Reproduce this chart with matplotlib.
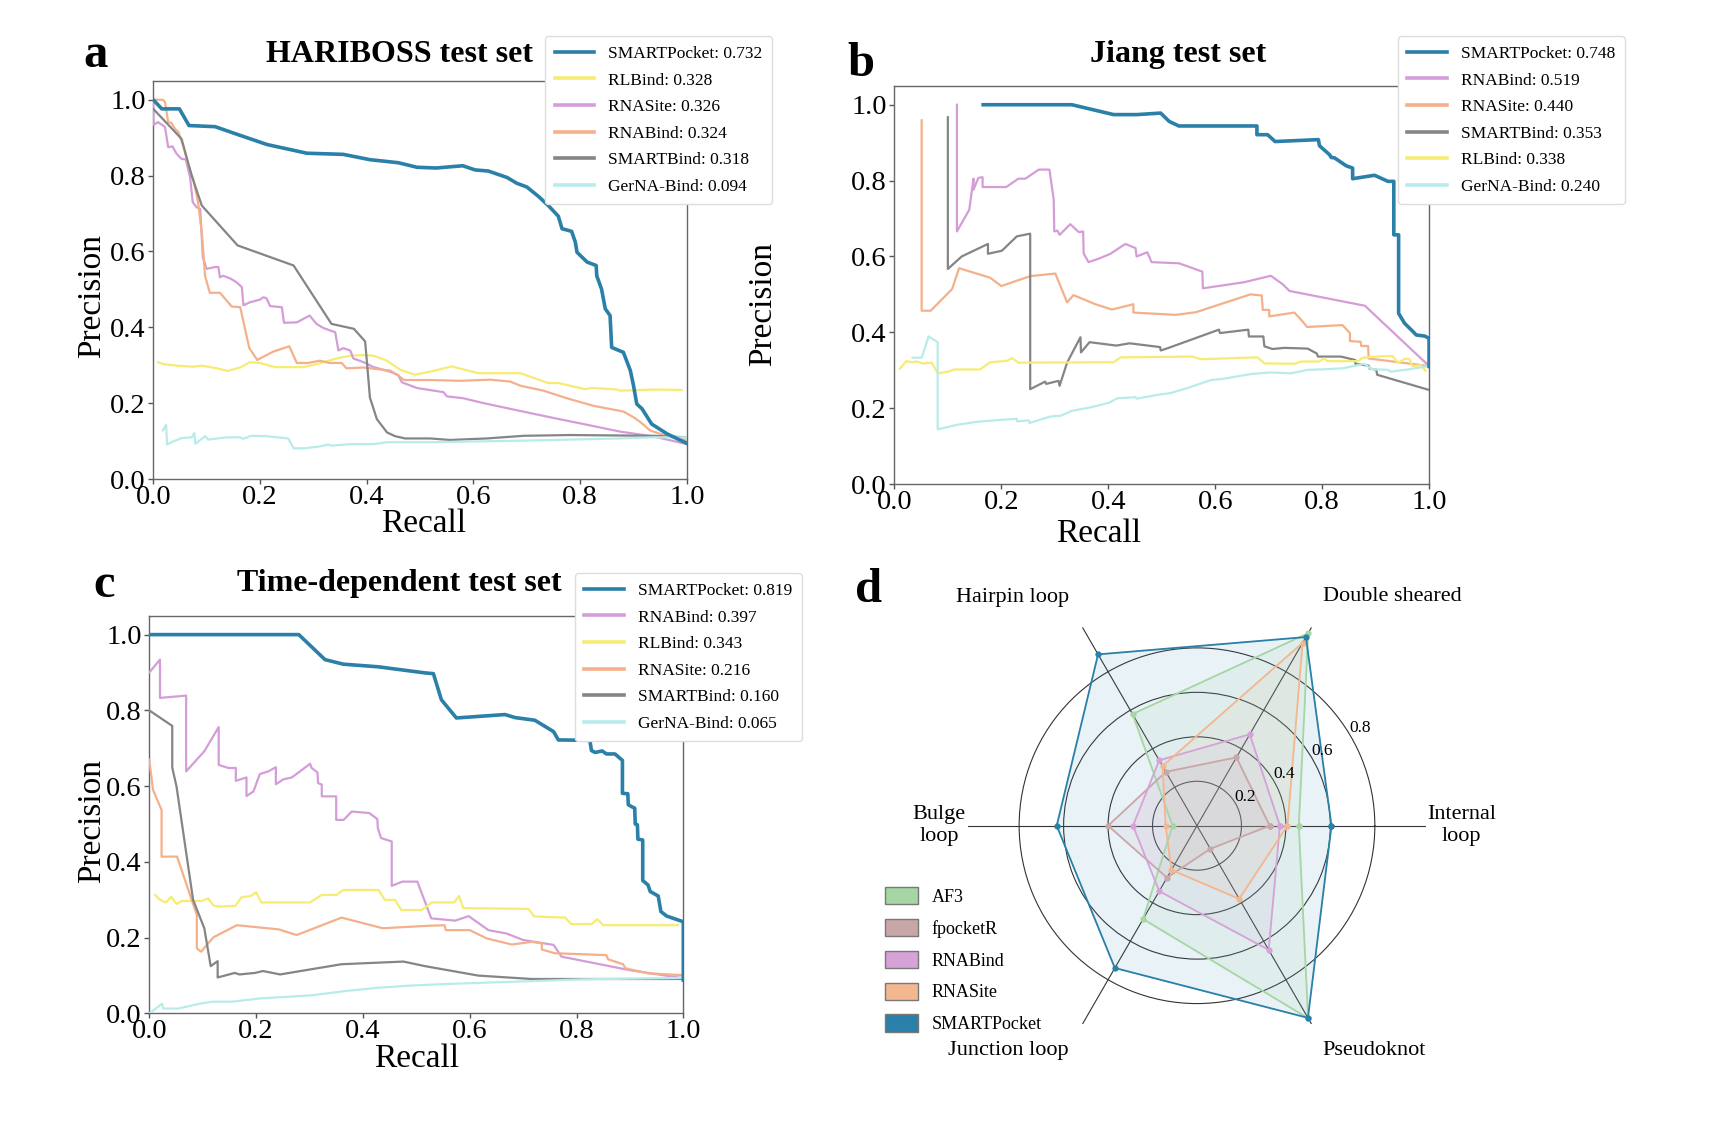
import numpy as np
import matplotlib
matplotlib.use("Agg")
import matplotlib.pyplot as plt
from matplotlib.patches import Patch

plt.rcParams['font.family'] = ['Liberation Serif', 'DejaVu Serif']

# ---------------- colours ----------------
C_BLUE = '#2a80a8'
C_YEL = '#f6ec74'
C_VIO = '#d49dd8'
C_ORA = '#f4b08a'
C_GRAY = '#858585'
C_CYAN = '#b8eceb'

# ---------------- panel a : HARIBOSS ----------------
a_smartpocket_r = [0, 0.016, 0.049, 0.067, 0.116, 0.163, 0.213, 0.288, 0.356, 0.406, 0.459, 0.494, 0.53, 0.58, 0.603, 0.628, 0.663, 0.681, 0.70, 0.722, 0.741, 0.759, 0.766, 0.784, 0.791, 0.794, 0.813, 0.83, 0.831, 0.84, 0.847, 0.856, 0.859, 0.881, 0.894, 0.90, 0.906, 0.916, 0.934, 0.963, 1.0]
a_smartpocket_p = [1.0, 0.976, 0.976, 0.932, 0.929, 0.906, 0.882, 0.859, 0.856, 0.842, 0.834, 0.822, 0.82, 0.826, 0.815, 0.812, 0.795, 0.78, 0.77, 0.745, 0.72, 0.693, 0.66, 0.653, 0.624, 0.598, 0.572, 0.563, 0.536, 0.501, 0.449, 0.431, 0.347, 0.334, 0.286, 0.246, 0.198, 0.185, 0.145, 0.119, 0.094]
a_rlbind_r = [0.009, 0.019, 0.044, 0.075, 0.091, 0.119, 0.139, 0.163, 0.181, 0.2, 0.228, 0.281, 0.306, 0.344, 0.369, 0.394, 0.413, 0.438, 0.463, 0.49, 0.519, 0.559, 0.609, 0.688, 0.74, 0.759, 0.809, 0.822, 0.869, 0.875, 0.938, 0.99]
a_rlbind_p = [0.308, 0.303, 0.299, 0.296, 0.299, 0.292, 0.285, 0.294, 0.308, 0.306, 0.295, 0.295, 0.303, 0.318, 0.325, 0.327, 0.325, 0.312, 0.288, 0.275, 0.283, 0.297, 0.279, 0.279, 0.253, 0.253, 0.237, 0.24, 0.236, 0.233, 0.236, 0.235]
a_rnasite_r = [0, 0.001, 0.009, 0.022, 0.028, 0.036, 0.044, 0.053, 0.061, 0.069, 0.074, 0.081, 0.088, 0.093, 0.1, 0.116, 0.122, 0.125, 0.131, 0.144, 0.156, 0.166, 0.169, 0.181, 0.2, 0.206, 0.212, 0.219, 0.241, 0.245, 0.269, 0.293, 0.306, 0.319, 0.341, 0.347, 0.356, 0.369, 0.375, 0.394, 0.413, 0.444, 0.459, 0.466, 0.494, 0.544, 0.55, 0.581, 0.613, 0.669, 0.75, 0.813, 0.875, 0.938, 1.0]
a_rnasite_p = [0.994, 0.934, 0.941, 0.928, 0.875, 0.877, 0.857, 0.844, 0.843, 0.796, 0.73, 0.717, 0.712, 0.585, 0.554, 0.559, 0.559, 0.532, 0.536, 0.529, 0.519, 0.506, 0.458, 0.466, 0.473, 0.479, 0.477, 0.456, 0.453, 0.412, 0.413, 0.431, 0.409, 0.398, 0.387, 0.339, 0.345, 0.339, 0.318, 0.308, 0.295, 0.283, 0.274, 0.255, 0.24, 0.229, 0.218, 0.213, 0.202, 0.185, 0.161, 0.143, 0.125, 0.112, 0.092]
a_rnabind_r = [0, 0.018, 0.022, 0.028, 0.034, 0.041, 0.047, 0.056, 0.066, 0.075, 0.084, 0.091, 0.097, 0.106, 0.125, 0.147, 0.163, 0.18, 0.195, 0.225, 0.255, 0.269, 0.29, 0.312, 0.331, 0.353, 0.362, 0.394, 0.419, 0.444, 0.459, 0.47, 0.519, 0.575, 0.631, 0.669, 0.688, 0.731, 0.775, 0.825, 0.881, 0.9, 0.913, 0.931, 0.95, 1.0]
a_rnabind_p = [1.0, 1.0, 0.994, 0.941, 0.939, 0.923, 0.915, 0.879, 0.827, 0.791, 0.73, 0.651, 0.536, 0.491, 0.491, 0.455, 0.453, 0.345, 0.314, 0.336, 0.35, 0.306, 0.306, 0.312, 0.306, 0.306, 0.292, 0.294, 0.29, 0.286, 0.273, 0.261, 0.261, 0.259, 0.262, 0.257, 0.246, 0.233, 0.213, 0.193, 0.178, 0.163, 0.15, 0.128, 0.119, 0.101]
a_smartbind_r = [0, 0.053, 0.072, 0.091, 0.158, 0.263, 0.334, 0.376, 0.397, 0.401, 0.406, 0.419, 0.438, 0.453, 0.472, 0.519, 0.556, 0.625, 0.694, 0.781, 0.938, 1.0]
a_smartbind_p = [0.976, 0.897, 0.8, 0.721, 0.616, 0.563, 0.409, 0.396, 0.363, 0.299, 0.215, 0.158, 0.123, 0.113, 0.107, 0.107, 0.103, 0.107, 0.114, 0.116, 0.114, 0.11]
a_gerna_r = [0.018, 0.024, 0.026, 0.034, 0.053, 0.072, 0.077, 0.079, 0.097, 0.103, 0.138, 0.163, 0.168, 0.184, 0.212, 0.253, 0.263, 0.284, 0.312, 0.328, 0.334, 0.369, 0.413, 0.438, 0.519, 0.688, 0.875, 0.938, 1.0]
a_gerna_p = [0.128, 0.143, 0.091, 0.097, 0.108, 0.11, 0.121, 0.093, 0.113, 0.104, 0.11, 0.11, 0.106, 0.114, 0.113, 0.107, 0.081, 0.081, 0.086, 0.091, 0.088, 0.092, 0.092, 0.097, 0.097, 0.101, 0.107, 0.11, 0.11]
a_labels = ['SMARTPocket: 0.732', 'RLBind: 0.328', 'RNASite: 0.326', 'RNABind: 0.324', 'SMARTBind: 0.318', 'GerNA-Bind: 0.094']

# ---------------- panel b : Jiang ----------------
b_smartpocket_r = [0.166, 0.332, 0.41, 0.454, 0.498, 0.514, 0.532, 0.678, 0.678, 0.698, 0.712, 0.793, 0.795, 0.814, 0.817, 0.823, 0.845, 0.857, 0.857, 0.898, 0.923, 0.934, 0.934, 0.943, 0.943, 0.954, 0.967, 0.976, 0.992, 1.0, 1.0]
b_smartpocket_p = [1.0, 1.0, 0.974, 0.974, 0.978, 0.956, 0.944, 0.944, 0.921, 0.921, 0.903, 0.908, 0.892, 0.868, 0.861, 0.86, 0.839, 0.833, 0.805, 0.814, 0.798, 0.798, 0.657, 0.657, 0.45, 0.424, 0.406, 0.393, 0.39, 0.384, 0.31]
b_rnabind_r = [0.117, 0.117, 0.14, 0.148, 0.148, 0.157, 0.165, 0.165, 0.209, 0.232, 0.245, 0.27, 0.29, 0.298, 0.299, 0.305, 0.309, 0.329, 0.345, 0.353, 0.354, 0.363, 0.382, 0.404, 0.432, 0.451, 0.453, 0.473, 0.481, 0.532, 0.576, 0.577, 0.654, 0.704, 0.726, 0.739, 0.88, 1.0]
b_rnabind_p = [1.0, 0.666, 0.723, 0.805, 0.776, 0.807, 0.809, 0.783, 0.783, 0.805, 0.805, 0.829, 0.829, 0.75, 0.666, 0.668, 0.657, 0.685, 0.664, 0.666, 0.608, 0.585, 0.594, 0.607, 0.633, 0.622, 0.6, 0.611, 0.585, 0.582, 0.56, 0.516, 0.532, 0.549, 0.527, 0.509, 0.47, 0.311]
b_rnasite_r = [0.051, 0.051, 0.068, 0.108, 0.121, 0.179, 0.2, 0.254, 0.301, 0.323, 0.335, 0.376, 0.407, 0.447, 0.447, 0.526, 0.564, 0.666, 0.687, 0.689, 0.701, 0.701, 0.748, 0.757, 0.772, 0.838, 0.852, 0.852, 0.872, 0.873, 0.886, 0.887, 1.0]
b_rnasite_p = [0.959, 0.457, 0.457, 0.514, 0.569, 0.544, 0.522, 0.548, 0.555, 0.479, 0.498, 0.474, 0.46, 0.474, 0.452, 0.446, 0.453, 0.5, 0.497, 0.459, 0.459, 0.442, 0.452, 0.439, 0.414, 0.419, 0.398, 0.377, 0.375, 0.364, 0.364, 0.331, 0.311]
b_smartbind_r = [0.1, 0.1, 0.126, 0.175, 0.175, 0.201, 0.229, 0.254, 0.254, 0.282, 0.284, 0.307, 0.309, 0.323, 0.348, 0.349, 0.365, 0.415, 0.44, 0.497, 0.498, 0.511, 0.607, 0.609, 0.662, 0.663, 0.69, 0.692, 0.707, 0.73, 0.773, 0.79, 0.792, 0.835, 0.862, 0.862, 0.887, 0.889, 0.901, 0.903, 1.0]
b_smartbind_p = [0.967, 0.567, 0.6, 0.633, 0.607, 0.615, 0.653, 0.66, 0.25, 0.27, 0.264, 0.272, 0.259, 0.32, 0.387, 0.347, 0.374, 0.365, 0.371, 0.361, 0.352, 0.358, 0.407, 0.398, 0.407, 0.389, 0.389, 0.363, 0.356, 0.359, 0.357, 0.344, 0.336, 0.336, 0.327, 0.317, 0.312, 0.304, 0.302, 0.288, 0.248]
b_rlbind_r = [0.011, 0.022, 0.034, 0.042, 0.053, 0.07, 0.081, 0.1, 0.112, 0.16, 0.179, 0.211, 0.22, 0.232, 0.41, 0.423, 0.557, 0.573, 0.679, 0.692, 0.748, 0.761, 0.794, 0.804, 0.81, 0.867, 0.876, 0.911, 0.932, 0.942, 0.954, 0.963, 0.969, 0.985, 0.993]
b_rlbind_p = [0.305, 0.324, 0.321, 0.323, 0.318, 0.32, 0.292, 0.296, 0.302, 0.302, 0.321, 0.325, 0.332, 0.32, 0.321, 0.334, 0.336, 0.329, 0.334, 0.318, 0.317, 0.323, 0.323, 0.331, 0.324, 0.324, 0.333, 0.337, 0.337, 0.319, 0.33, 0.33, 0.311, 0.313, 0.299]
b_gerna_r = [0.034, 0.051, 0.064, 0.081, 0.081, 0.117, 0.154, 0.198, 0.229, 0.23, 0.251, 0.253, 0.292, 0.311, 0.332, 0.367, 0.401, 0.417, 0.451, 0.453, 0.492, 0.517, 0.548, 0.592, 0.613, 0.667, 0.701, 0.742, 0.773, 0.811, 0.839, 0.879, 0.892, 0.923, 0.928, 0.96, 1.0]
b_gerna_p = [0.333, 0.333, 0.389, 0.374, 0.144, 0.156, 0.164, 0.169, 0.172, 0.165, 0.168, 0.161, 0.178, 0.18, 0.193, 0.202, 0.214, 0.226, 0.229, 0.225, 0.235, 0.24, 0.253, 0.274, 0.277, 0.29, 0.294, 0.292, 0.301, 0.303, 0.305, 0.317, 0.303, 0.301, 0.296, 0.302, 0.311]
b_labels = ['SMARTPocket: 0.748', 'RNABind: 0.519', 'RNASite: 0.440', 'SMARTBind: 0.353', 'RLBind: 0.338', 'GerNA-Bind: 0.240']

# ---------------- panel c : Time-dependent ----------------
c_smartpocket_r = [0, 0.28, 0.329, 0.363, 0.429, 0.516, 0.532, 0.547, 0.575, 0.666, 0.685, 0.722, 0.757, 0.766, 0.825, 0.828, 0.835, 0.848, 0.856, 0.872, 0.886, 0.886, 0.896, 0.897, 0.903, 0.909, 0.91, 0.914, 0.915, 0.924, 0.924, 0.934, 0.938, 0.953, 0.958, 0.969, 1.0, 1.0]
c_smartpocket_p = [1.0, 1.0, 0.934, 0.922, 0.915, 0.899, 0.897, 0.828, 0.78, 0.789, 0.781, 0.774, 0.744, 0.722, 0.721, 0.694, 0.689, 0.693, 0.685, 0.685, 0.668, 0.581, 0.58, 0.551, 0.546, 0.542, 0.5, 0.498, 0.46, 0.458, 0.351, 0.339, 0.322, 0.31, 0.269, 0.257, 0.242, 0.088]
c_rnabind_r = [0, 0.02, 0.02, 0.069, 0.069, 0.103, 0.13, 0.13, 0.148, 0.162, 0.162, 0.182, 0.182, 0.195, 0.207, 0.223, 0.237, 0.237, 0.251, 0.267, 0.301, 0.304, 0.315, 0.316, 0.323, 0.323, 0.35, 0.35, 0.364, 0.379, 0.412, 0.427, 0.428, 0.434, 0.454, 0.454, 0.474, 0.502, 0.528, 0.573, 0.598, 0.635, 0.669, 0.7, 0.757, 0.772, 0.897, 1.0]
c_rnabind_p = [0.9, 0.934, 0.833, 0.839, 0.639, 0.692, 0.756, 0.656, 0.648, 0.648, 0.614, 0.623, 0.574, 0.586, 0.632, 0.639, 0.65, 0.605, 0.618, 0.623, 0.659, 0.648, 0.636, 0.608, 0.604, 0.573, 0.573, 0.511, 0.511, 0.533, 0.529, 0.513, 0.489, 0.463, 0.454, 0.337, 0.348, 0.348, 0.251, 0.245, 0.257, 0.22, 0.211, 0.194, 0.181, 0.15, 0.115, 0.093]
c_rlbind_r = [0.011, 0.02, 0.031, 0.041, 0.051, 0.061, 0.099, 0.11, 0.12, 0.132, 0.161, 0.173, 0.19, 0.2, 0.21, 0.301, 0.323, 0.351, 0.363, 0.429, 0.441, 0.46, 0.472, 0.51, 0.529, 0.571, 0.58, 0.588, 0.71, 0.721, 0.779, 0.79, 0.828, 0.839, 0.85, 0.922, 0.99]
c_rlbind_p = [0.313, 0.3, 0.293, 0.308, 0.289, 0.297, 0.297, 0.304, 0.285, 0.282, 0.284, 0.307, 0.31, 0.32, 0.293, 0.293, 0.313, 0.313, 0.326, 0.326, 0.3, 0.3, 0.273, 0.273, 0.293, 0.293, 0.31, 0.278, 0.276, 0.256, 0.253, 0.236, 0.236, 0.249, 0.233, 0.233, 0.233]
c_rnasite_r = [0, 0.007, 0.023, 0.023, 0.052, 0.089, 0.089, 0.097, 0.12, 0.164, 0.242, 0.276, 0.36, 0.437, 0.516, 0.553, 0.555, 0.6, 0.632, 0.679, 0.716, 0.735, 0.735, 0.759, 0.856, 0.859, 0.887, 0.892, 0.934, 1.0]
c_rnasite_p = [0.67, 0.59, 0.537, 0.414, 0.414, 0.26, 0.172, 0.163, 0.201, 0.233, 0.222, 0.207, 0.253, 0.225, 0.231, 0.233, 0.22, 0.22, 0.198, 0.182, 0.189, 0.185, 0.169, 0.159, 0.154, 0.143, 0.13, 0.119, 0.106, 0.101]
c_smartbind_r = [0, 0.043, 0.043, 0.051, 0.082, 0.103, 0.115, 0.128, 0.128, 0.16, 0.169, 0.198, 0.213, 0.245, 0.36, 0.476, 0.516, 0.616, 0.716, 1.0]
c_smartbind_p = [0.8, 0.759, 0.649, 0.599, 0.3, 0.225, 0.125, 0.138, 0.095, 0.107, 0.103, 0.107, 0.112, 0.103, 0.13, 0.137, 0.125, 0.1, 0.091, 0.091]
c_gerna_r = [0, 0.017, 0.024, 0.026, 0.054, 0.095, 0.117, 0.154, 0.21, 0.26, 0.304, 0.366, 0.429, 0.494, 0.56, 0.685, 0.81, 1.0]
c_gerna_p = [0.0, 0.018, 0.026, 0.013, 0.013, 0.026, 0.031, 0.031, 0.04, 0.044, 0.048, 0.059, 0.068, 0.074, 0.078, 0.084, 0.09, 0.094]
c_labels = ['SMARTPocket: 0.819', 'RNABind: 0.397', 'RLBind: 0.343', 'RNASite: 0.216', 'SMARTBind: 0.160', 'GerNA-Bind: 0.065']

# ---------------- panel d : radar ----------------
radar_categories = ['Internal\nloop', 'Double sheared', 'Hairpin loop', 'Bulge\nloop', 'Junction loop', 'Pseudoknot']
radar_methods = ['AF3', 'fpocketR', 'RNABind', 'RNASite', 'SMARTPocket']
radar_af3 = [0.458, 1.0, 0.58, 0.11, 0.485, 1.0]
radar_fpocketr = [0.327, 0.355, 0.28, 0.40, 0.27, 0.12]
radar_rnabind = [0.373, 0.475, 0.34, 0.288, 0.34, 0.645]
radar_rnasite = [0.407, 0.95, 0.31, 0.141, 0.23, 0.38]
radar_smartpocket = [0.605, 0.98, 0.89, 0.631, 0.739, 0.998]
radar_colors = ['#a6d6a4', '#c9a7a8', '#d5a3d7', '#f3b790', C_BLUE]
radar_ticks = [0.2, 0.4, 0.6, 0.8]

fig = plt.figure(figsize=(17.16, 11.33), dpi=100)
fig.patch.set_facecolor('white')


def panel_letter(x, y, s):
    fig.text(x, y, s, ha='center', va='baseline', fontsize=35, fontweight='bold')


def pr_panel(rect, series, colors, labels, title, title_xy, ylab_xy, xlab_xy, leg_xy):
    ax = fig.add_axes(rect)
    for i, ((r, p), col, lab) in enumerate(zip(series, colors, labels)):
        lw = 2.6 if i == 0 else 1.6
        z = 5 if i == 0 else 3
        ax.plot(r, p, color=col, lw=lw, label=lab, zorder=z)
    ax.set_xlim(0, 1.0)
    ax.set_ylim(0, 1.05)
    ticks = [0.0, 0.2, 0.4, 0.6, 0.8, 1.0]
    ax.set_xticks(ticks)
    ax.set_yticks(ticks)
    ax.set_xticklabels([f'{t:.1f}' for t in ticks])
    ax.set_yticklabels([f'{t:.1f}' for t in ticks])
    ax.tick_params(labelsize=20.5, length=3.5, width=1, color='#555555', pad=2)
    ax.tick_params(axis='x', pad=0.5)
    for s in ax.spines.values():
        s.set_color('#666666')
        s.set_linewidth(1.0)
    ax.set_ylabel('Precision', fontsize=24)
    ax.set_xlabel('Recall', fontsize=24)
    ax.yaxis.label.set_va('center')
    ax.xaxis.label.set_va('center')
    ax.yaxis.set_label_coords(*ylab_xy)
    ax.xaxis.set_label_coords(*xlab_xy)
    ax.text(title_xy[0], title_xy[1], title, transform=ax.transAxes, ha='center', va='center',
            fontsize=23, fontweight='bold')
    leg = ax.legend(loc='upper left', bbox_to_anchor=leg_xy, bbox_transform=fig.transFigure,
                    borderaxespad=0, fontsize=12.5, handlelength=2.3, labelspacing=0.6,
                    borderpad=0.55, handletextpad=0.8, framealpha=1, edgecolor='#dddddd')
    for h in leg.get_lines():
        h.set_linewidth(2.6)
    return ax


pr_panel([0.0893, 0.5772, 0.3110, 0.3515],
         [(a_smartpocket_r, a_smartpocket_p), (a_rlbind_r, a_rlbind_p), (a_rnasite_r, a_rnasite_p),
          (a_rnabind_r, a_rnabind_p), (a_smartbind_r, a_smartbind_p), (a_gerna_r, a_gerna_p)],
         [C_BLUE, C_YEL, C_VIO, C_ORA, C_GRAY, C_CYAN], a_labels,
         'HARIBOSS test set', (0.461, 1.065),
         (-0.115, 0.46), (0.506, -0.113), (0.3176, 0.968))
panel_letter(0.0554, 0.9411, 'a')

pr_panel([0.5212, 0.5728, 0.3116, 0.3515],
         [(b_smartpocket_r, b_smartpocket_p), (b_rnabind_r, b_rnabind_p), (b_rnasite_r, b_rnasite_p),
          (b_smartbind_r, b_smartbind_p), (b_rlbind_r, b_rlbind_p), (b_gerna_r, b_gerna_p)],
         [C_BLUE, C_VIO, C_ORA, C_GRAY, C_YEL, C_CYAN], b_labels,
         'Jiang test set', (0.53, 1.078),
         (-0.2456, 0.452), (0.382, -0.125), (0.8144, 0.968))
panel_letter(0.5018, 0.933, 'b')

pr_panel([0.0870, 0.1055, 0.3112, 0.3511],
         [(c_smartpocket_r, c_smartpocket_p), (c_rnabind_r, c_rnabind_p), (c_rlbind_r, c_rlbind_p),
          (c_rnasite_r, c_rnasite_p), (c_smartbind_r, c_smartbind_p), (c_gerna_r, c_gerna_p)],
         [C_BLUE, C_VIO, C_YEL, C_ORA, C_GRAY, C_CYAN], c_labels,
         'Time-dependent test set', (0.468, 1.081),
         (-0.107, 0.485), (0.501, -0.114), (0.3348, 0.494))
panel_letter(0.0606, 0.473, 'c')

# ---------------- radar ----------------
axd = fig.add_axes([0.5641, 0.0691, 0.2669, 0.4042], projection='polar')
axd.set_facecolor('none')
angles = np.deg2rad(np.arange(0, 360, 60))
ang_closed = np.concatenate([angles, angles[:1]])
for vals, col in zip([radar_af3, radar_fpocketr, radar_rnabind, radar_rnasite, radar_smartpocket],
                     radar_colors):
    v = np.concatenate([vals, vals[:1]])
    axd.plot(ang_closed, v, color=col, lw=1.3, marker='o', markersize=3.5, zorder=4)
    axd.fill(ang_closed, v, color=col, alpha=0.1, zorder=2)
axd.set_ylim(0, 1.03)
axd.set_thetagrids(np.arange(0, 360, 60), labels=[''] * 6)
axd.set_rgrids(radar_ticks, labels=[''] * len(radar_ticks))
axd.grid(True, color='#333333', lw=0.8)
axd.spines['polar'].set_visible(False)
for t in radar_ticks:
    axd.text(np.deg2rad(31), t + 0.055, f'{t:.1f}', ha='center', va='center', fontsize=12.5,
             zorder=6)

label_angles = [0, 49.5, 129, 180, 230, 308.3]
label_radii = [1.19, 1.356, 1.32, 1.16, 1.32, 1.287]
for cat, a, rr in zip(radar_categories, label_angles, label_radii):
    axd.text(np.deg2rad(a), rr, cat, ha='center', va='center', fontsize=16, clip_on=False,
             linespacing=1.2)

panel_letter(0.5064, 0.469, 'd')

handles = [Patch(facecolor=c, edgecolor='#777777', lw=1.0, label=m)
           for m, c in zip(radar_methods, radar_colors)]
fig.legend(handles=handles, loc='upper left', bbox_to_anchor=(0.5156, 0.217), frameon=False,
           fontsize=13, handlelength=1.85, handleheight=1.1, labelspacing=0.72,
           handletextpad=0.75, borderpad=0, borderaxespad=0)

fig.savefig('out.png', dpi=100, facecolor='white')
